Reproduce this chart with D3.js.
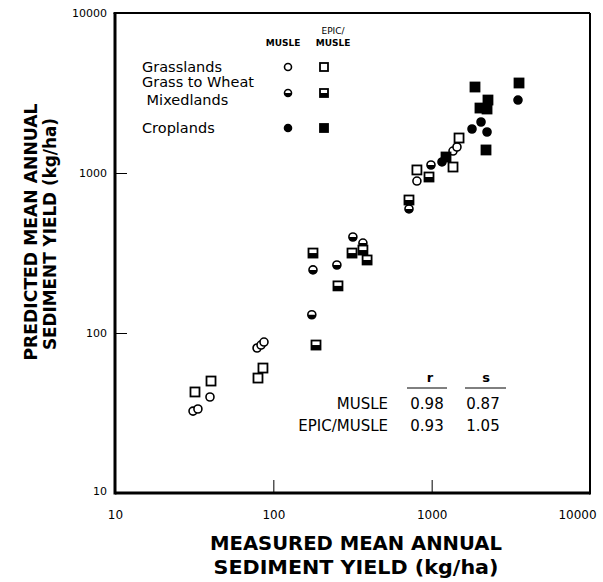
<!DOCTYPE html>
<html>
<head>
  <script src="https://d3js.org/d3.v7.min.js"></script>
  <style>
    body { margin: 0; background: #fff; }
    text { font-family: "DejaVu Sans", sans-serif; fill: #000; }
  </style>
</head>
<body>
  <div id="chart"></div>
  <script>

  // measured (x) vs predicted (y) sediment yield, kg/ha
  var grassMusle = [[31.1, 32.5], [33.4, 33.5], [39.8, 39.8], [78.9, 80.6], [83.6, 84.1],
                    [87.3, 87.8], [807, 891], [1364, 1372], [1445, 1454]];
  var grassEpic = [[32.0, 42.8], [40.4, 50.1], [80.0, 52.3], [86.0, 60.4],
                   [807, 1045], [1364, 1090], [1489, 1655]];
  var mixedMusle = [[175, 130], [178, 248], [252, 266], [318, 398], [368, 365],
                    [719, 596], [990, 1122]];
  var mixedEpic = [[186, 84.1], [178, 316], [256, 197], [314, 316], [368, 330],
                   [391, 286], [719, 678], [962, 944]];
  var cropMusle = [[1162, 1172], [1798, 1884], [2050, 2083], [2237, 1804], [3509, 2858]];
  var cropEpic = [[1232, 1259], [1878, 3447], [3562, 3652], [2019, 2547], [2237, 2512],
                  [2268, 2858], [2204, 1393]];

  var tickValues = [10, 100, 1000, 10000];
  var statRows = ["MUSLE", "EPIC/MUSLE"];
  var statR = ["0.98", "0.93"];
  var statS = ["0.87", "1.05"];
  var legendLabels = [["Grasslands"], ["Grass to Wheat", " Mixedlands"], ["Croplands"]];

  var width = 603, height = 582;

  var svg = d3.select("#chart").append("svg")
    .attr("width", width)
    .attr("height", height);

  var x = d3.scaleLog().domain([10, 10000]).range([115, 590]);
  var y = d3.scaleLog().domain([10, 10000]).range([493, 13]);

  // frame
  svg.append("line").attr("x1", x(10)).attr("x2", x(10)).attr("y1", y(10000)).attr("y2", y(10) + 1.5)
    .attr("stroke", "#000").attr("stroke-width", 3);
  svg.append("line").attr("x1", x(10)).attr("x2", x(10000)).attr("y1", y(10)).attr("y2", y(10))
    .attr("stroke", "#000").attr("stroke-width", 3);
  svg.append("line").attr("x1", x(10) - 1.5).attr("x2", x(10000)).attr("y1", y(10000)).attr("y2", y(10000))
    .attr("stroke", "#000").attr("stroke-width", 2);
  svg.append("line").attr("x1", x(10000)).attr("x2", x(10000)).attr("y1", y(10000)).attr("y2", y(10) + 1.5)
    .attr("stroke", "#000").attr("stroke-width", 2);

  // axes, ticks inward, no domain line
  var xAxis = svg.append("g")
    .attr("transform", "translate(0," + y(10) + ")")
    .call(d3.axisBottom(x).tickValues(tickValues).tickFormat(d3.format("d")).tickSizeInner(-13).tickPadding(17));
  xAxis.select(".domain").remove();
  xAxis.selectAll("line").attr("stroke-width", 1);
  xAxis.selectAll("text").style("font-size", "12px").style("font-family", "DejaVu Sans");
  xAxis.selectAll(".tick").filter(function(d) { return d == 10000; }).select("text").attr("dx", -13);

  var yAxis = svg.append("g")
    .attr("transform", "translate(" + x(10) + ",0)")
    .call(d3.axisLeft(y).tickValues(tickValues).tickFormat(d3.format("d")).tickSizeInner(-12).tickPadding(8));
  yAxis.select(".domain").remove();
  yAxis.selectAll("line").attr("stroke-width", 1);
  yAxis.selectAll("text").style("font-size", "11px").style("font-family", "DejaVu Sans");
  yAxis.selectAll(".tick").filter(function(d) { return d == 10; }).select("text").attr("dy", "0.1em");

  // symbols
  function drawCircle(g, kind, r) {
    g.append("circle").attr("r", r)
      .attr("fill", kind == "crop" ? "#000" : "#fff")
      .attr("stroke", "#000").attr("stroke-width", 1.6);
    if (kind == "mixed") {
      g.append("path")
        .attr("d", "M" + (-r) + ",0 A" + r + "," + r + " 0 0 0 " + r + ",0 Z")
        .attr("fill", "#000");
    }
  }

  function drawSquare(g, kind, s) {
    g.append("rect").attr("x", -s / 2).attr("y", -s / 2).attr("width", s).attr("height", s)
      .attr("fill", kind == "crop" ? "#000" : "#fff")
      .attr("stroke", "#000").attr("stroke-width", 1.8);
    if (kind == "mixed") {
      g.append("rect").attr("x", -s / 2).attr("y", 0).attr("width", s).attr("height", s / 2)
        .attr("fill", "#000");
    }
  }

  var series = [
    { data: grassMusle, shape: "circle", kind: "grass" },
    { data: grassEpic, shape: "square", kind: "grass" },
    { data: mixedMusle, shape: "circle", kind: "mixed" },
    { data: mixedEpic, shape: "square", kind: "mixed" },
    { data: cropMusle, shape: "circle", kind: "crop" },
    { data: cropEpic, shape: "square", kind: "crop" }
  ];

  series.forEach(function(s) {
    svg.append("g").selectAll("g")
      .data(s.data)
      .enter()
      .append("g")
      .attr("transform", function(d) { return "translate(" + x(d[0]) + "," + y(d[1]) + ")"; })
      .each(function() {
        if (s.shape == "circle") drawCircle(d3.select(this), s.kind, 4);
        else drawSquare(d3.select(this), s.kind, 9);
      });
  });

  // legend
  var legend = svg.append("g");
  legend.append("text").attr("x", 283).attr("y", 46).attr("text-anchor", "middle")
    .style("font-size", "9px").style("font-weight", "bold").text("MUSLE");
  legend.append("text").attr("x", 333).attr("y", 34).attr("text-anchor", "middle")
    .style("font-size", "9px").text("EPIC/");
  legend.append("text").attr("x", 333).attr("y", 46).attr("text-anchor", "middle")
    .style("font-size", "9px").style("font-weight", "bold").text("MUSLE");

  var legendY = [67, 93, 128];
  var legendKinds = ["grass", "mixed", "crop"];
  legendLabels.forEach(function(lines, i) {
    var t = legend.append("text").attr("x", 142)
      .attr("y", lines.length > 1 ? legendY[i] - 6 : legendY[i] + 5)
      .style("font-size", "14.5px");
    lines.forEach(function(l, j) {
      t.append("tspan").attr("x", 142).attr("dy", j == 0 ? 0 : 18).attr("xml:space", "preserve").text(l);
    });
    drawCircle(legend.append("g").attr("transform", "translate(288," + legendY[i] + ")"), legendKinds[i], 3.5);
    drawSquare(legend.append("g").attr("transform", "translate(324," + legendY[i] + ")"), legendKinds[i], 8);
  });

  // statistics table
  var stats = svg.append("g");
  stats.append("text").attr("x", 430).attr("y", 382).attr("text-anchor", "middle")
    .style("font-size", "13px").style("font-weight", "bold").text("r");
  stats.append("text").attr("x", 486).attr("y", 382).attr("text-anchor", "middle")
    .style("font-size", "13px").style("font-weight", "bold").text("s");
  stats.append("line").attr("x1", 407).attr("x2", 447).attr("y1", 388).attr("y2", 388)
    .attr("stroke", "#000").attr("stroke-width", 1);
  stats.append("line").attr("x1", 465).attr("x2", 506).attr("y1", 388).attr("y2", 388)
    .attr("stroke", "#000").attr("stroke-width", 1);
  statRows.forEach(function(name, i) {
    var ty = 409 + i * 22;
    stats.append("text").attr("x", 388).attr("y", ty).attr("text-anchor", "end")
      .style("font-size", "15px").text(name);
    stats.append("text").attr("x", 427).attr("y", ty).attr("text-anchor", "middle")
      .style("font-size", "15px").text(statR[i]);
    stats.append("text").attr("x", 483).attr("y", ty).attr("text-anchor", "middle")
      .style("font-size", "15px").text(statS[i]);
  });

  // axis titles
  svg.append("text").attr("x", 356).attr("y", 550).attr("text-anchor", "middle")
    .attr("textLength", 292).attr("lengthAdjust", "spacingAndGlyphs")
    .style("font-size", "19px").style("font-weight", "bold").text("MEASURED MEAN ANNUAL");
  svg.append("text").attr("x", 356).attr("y", 574).attr("text-anchor", "middle")
    .attr("textLength", 285).attr("lengthAdjust", "spacingAndGlyphs")
    .style("font-size", "19px").style("font-weight", "bold").text("SEDIMENT YIELD (kg/ha)");

  svg.append("text").attr("transform", "translate(37,232) rotate(-90)").attr("text-anchor", "middle")
    .attr("textLength", 257).attr("lengthAdjust", "spacingAndGlyphs")
    .style("font-size", "18px").style("font-weight", "bold").text("PREDICTED MEAN ANNUAL");
  svg.append("text").attr("transform", "translate(56,234) rotate(-90)").attr("text-anchor", "middle")
    .attr("textLength", 232).attr("lengthAdjust", "spacingAndGlyphs")
    .style("font-size", "18px").style("font-weight", "bold").text("SEDIMENT YIELD (kg/ha)");

  </script>
</body>
</html>
